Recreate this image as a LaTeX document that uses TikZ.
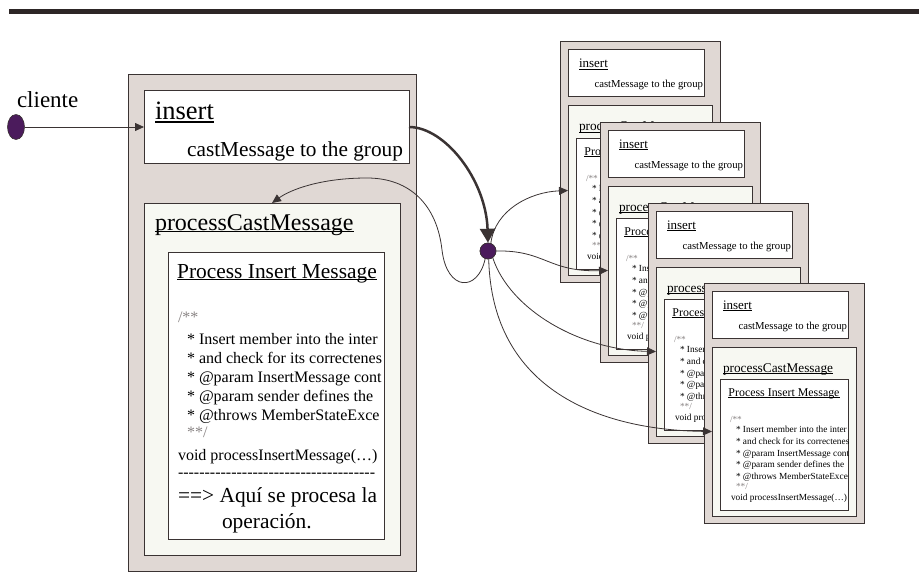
\documentclass[tikz,border=0pt]{standalone}
\usepackage{fontspec}
\setmainfont{Liberation Serif}
\usetikzlibrary{arrows.meta,shapes.geometric}
\definecolor{barc}{HTML}{2D2626}
\definecolor{outerc}{HTML}{E0D8D4}
\definecolor{pcmc}{HTML}{F7F8F2}
\definecolor{linec}{HTML}{3A3333}
\definecolor{dotc}{HTML}{4B1B5C}
\definecolor{grayc}{HTML}{8A8585}
\newcommand\myul[1]{\setbox0\hbox{#1}\rlap{\rule[-0.1em]{\wd0}{0.05em}}\box0}
\newcommand\fs[1]{\fontsize{#1}{#1}\selectfont}
\newcommand\hyphline{\foreach \i in {1,...,37}{-}}
\begin{document}
\begin{tikzpicture}[x=1pt,y=-1pt,
  box/.style={draw=linec, line width=1pt, inner sep=0pt, outer sep=0pt, anchor=north west},
  outerbox/.style={box, fill=outerc},
  insbox/.style={box, fill=white},
  pcmbox/.style={box, fill=pcmc},
  codebox/.style={box, fill=white},
  txt/.style={inner sep=0pt, outer sep=0pt, anchor=base west, text=black},
  gtxt/.style={txt, text=grayc},
  conn/.style={draw=linec, line width=0.8pt, -{Triangle[length=9pt,width=8pt]}},
  bigconn/.style={draw=linec, line width=2.5pt, -{Triangle[length=14pt,width=15pt]}},
  dot/.style={fill=dotc, draw=linec, line width=0.6pt, inner sep=0pt}
]
\useasboundingbox (0,0) rectangle (919,586);
\fill[barc] (9,9) rectangle (919,14);

% client
\node[txt, font=\fs{23}] (tcl) at (17,107) {cliente};
\node[dot, ellipse, minimum width=17pt, minimum height=25pt] (cl) at (16,127) {};

% main box
\node[outerbox, minimum width=288pt, minimum height=496pt] (mo) at (128,75) {};
\node[insbox, minimum width=265pt, minimum height=72pt] (ins) at (144,91) {};
\node[pcmbox, minimum width=256pt, minimum height=352pt] (pcm) at (144,203) {};
\node[codebox, minimum width=216pt, minimum height=287pt] (code) at (168,252) {};
\node[txt, font=\fs{26.5}] (tins) at (155,120) {\myul{insert}};
\node[txt, anchor=base east, font=\fs{21.3}] (tcast) at (403,157) {castMessage to the group};
\node[txt, font=\fs{24}] (tpcm) at (155,230) {\myul{processCastMessage}};
\node[txt, anchor=base, font=\fs{21.4}] (tpim) at (277,278) {\myul{Process Insert Message}};
\node[gtxt, font=\fs{16}] (m0) at (178,322) {/**};
\node[txt, font=\fs{16}] (m1) at (187,344) {* Insert member into the inter};
\node[txt, font=\fs{16}] (m2) at (187,363) {* and check for its correctenes};
\node[txt, font=\fs{16}] (m3) at (187,382) {* @param InsertMessage cont};
\node[txt, font=\fs{16}] (m4) at (187,401) {* @param sender defines the};
\node[txt, font=\fs{16}] (m5) at (187,420) {* @throws MemberStateExce};
\node[gtxt, font=\fs{16}] (m6) at (187,437) {**/};
\node[txt, font=\fs{16}] (m7) at (178,460) {void processInsertMessage(…)};
\node[txt, font=\fs{16}] (m8) at (178,477) {\hyphline};
\node[txt, font=\fs{21.4}] (m9) at (178,502) {==> Aquí se procesa la};
\node[txt, font=\fs{21.4}] (m10) at (222,528) {operación.};

% stacked cards
\foreach \n/\x/\y in {1/560/42,2/600/122,3/648/203,4/704/283}{
  \begin{scope}[shift={(\x,\y)}]
    \node[outerbox, minimum width=160pt, minimum height=240pt] (c\n o) at (0,0) {};
    \node[insbox, minimum width=136pt, minimum height=47pt] (c\n i) at (8,8) {};
    \node[pcmbox, minimum width=144pt, minimum height=169pt] (c\n p) at (8,64) {};
    \node[codebox, minimum width=128pt, minimum height=131pt] (c\n c) at (16,96) {};
    \node[txt, font=\fs{13}] (c\n ta) at (19,26) {\myul{insert}};
    \node[txt, anchor=base east, font=\fs{10.7}] (c\n tb) at (143,46) {castMessage to the group};
    \node[txt, font=\fs{13.3}] (c\n tc) at (19,89) {\myul{processCastMessage}};
    \node[txt, anchor=base, font=\fs{11.9}] (c\n td) at (80,113) {\myul{Process Insert Message}};
    \node[gtxt, font=\fs{9.3}] (c\n la) at (26,139) {/**};
    \node[txt, font=\fs{9.3}] (c\n lb) at (32,149) {* Insert member into the inter};
    \node[txt, font=\fs{9.3}] (c\n lc) at (32,161) {* and check for its correctenes};
    \node[txt, font=\fs{9.3}] (c\n ld) at (32,173) {* @param InsertMessage cont};
    \node[txt, font=\fs{9.3}] (c\n le) at (32,184) {* @param sender defines the};
    \node[txt, font=\fs{9.3}] (c\n lf) at (32,196) {* @throws MemberStateExce};
    \node[gtxt, font=\fs{9.3}] (c\n lg) at (32,206) {**/};
    \node[txt, font=\fs{9.3}] (c\n lh) at (27,217) {void processInsertMessage(…)};
  \end{scope}
}

% hub
\node[dot, circle, minimum size=16pt] (hub) at (488,251) {};

% connectors
\draw[conn] (cl.east) -- (ins.west);
\draw[bigconn] (ins.east) .. controls (445,127) and (486,180) .. (hub.north);
\draw[conn] (hub.250) .. controls (478,292) and (447,292) .. (442,250)
  .. controls (437,205) and (410,178) .. (367,178)
  .. controls (320,178) and (290,190) .. (pcm.north);
\draw[conn] (hub.70) .. controls (495,210) and (530,192) .. (c1p.west);
\draw[conn] (hub.east) .. controls (545,250) and (548,272) .. (c2p.west);
\draw[conn] (hub.-55) .. controls (510,310) and (580,350) .. (c3p.west);
\draw[conn] (hub.-85) .. controls (492,390) and (600,430) .. (c4p.west);
\node[dot, circle, minimum size=16pt] at (hub) {};
\end{tikzpicture}
\end{document}
